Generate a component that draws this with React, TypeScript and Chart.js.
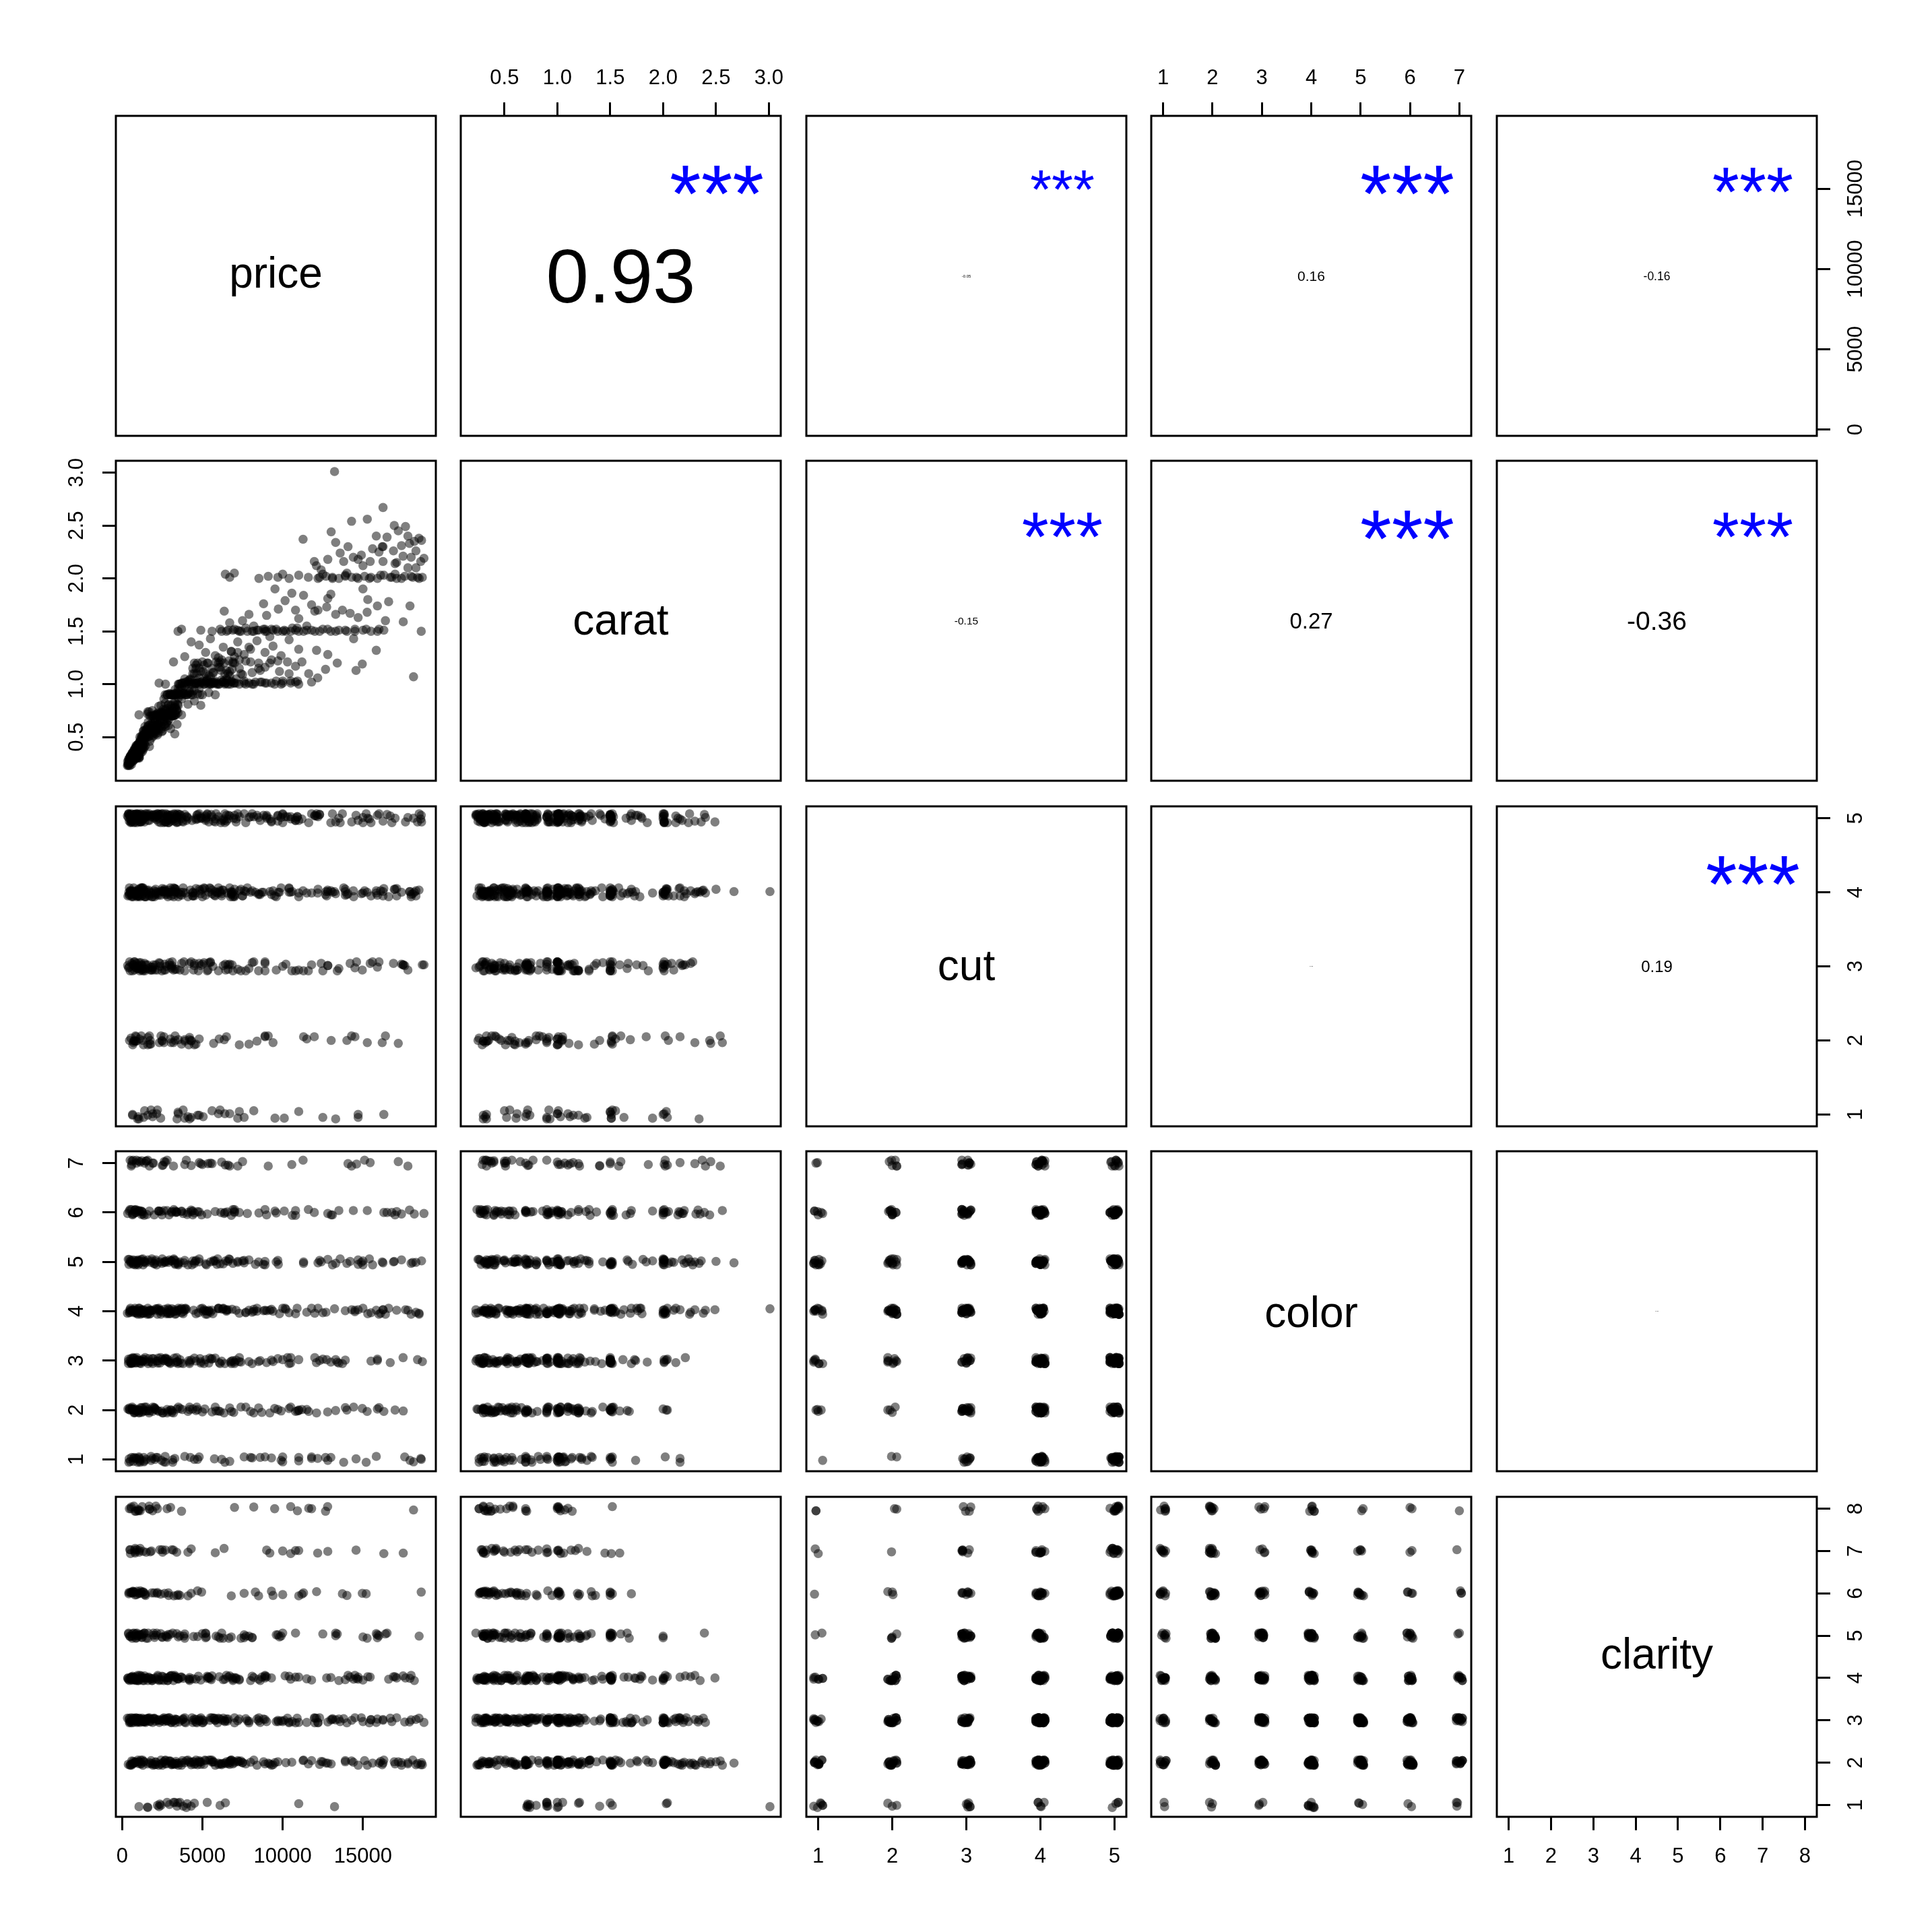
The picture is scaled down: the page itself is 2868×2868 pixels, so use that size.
import React, { useEffect, useRef } from 'react';
import { Chart, registerables } from 'chart.js';

Chart.register(...registerables);

const FONT = '"Liberation Sans", Arial, Helvetica, sans-serif';

// ---- data (one row per diamond; categorical values carry the plotted jitter) ----
const price = [
  330, 360, 380, 400, 420, 440, 460, 480, 500, 520,
  550, 570, 590, 610, 630, 650, 670, 690, 710, 730,
  750, 770, 790, 810, 830, 850, 870, 890, 910, 930,
  950, 970, 990, 1010, 1030, 1050, 1080, 1100, 1130, 1160,
  1190, 1220, 1250, 1280, 1310, 1340, 1370, 1400, 1430, 1460,
  345, 395, 455, 505, 565, 625, 685, 745, 805, 865,
  925, 985, 1045, 1105, 1165, 1225, 1285, 1345, 1405, 1465,
  1500, 1550, 1600, 1650, 1700, 1750, 1800, 1850, 1900, 1950,
  2000, 2050, 2100, 2150, 2200, 2250, 2300, 2350, 2400, 2450,
  2500, 2550, 2600, 2650, 2700, 2750, 2800, 2850, 2900, 2950,
  3000, 3050, 3100, 3150, 3200, 3250, 3300, 3350, 3400, 1580,
  1720, 1680, 1880, 2080, 2280, 2480, 2680, 2880, 3080, 3280,
  1620, 1820, 2020, 2220, 2420, 2620, 2820, 3020, 3220, 3420,
  2800, 3000, 3200, 3400, 3600, 3800, 4000, 4200, 4400, 4700,
  5000, 5400, 5800, 2900, 3300, 3700, 4100, 4500, 3500, 4900,
  3500, 3800, 4000, 4200, 4400, 4600, 4800, 5000, 5200, 5400,
  5600, 5800, 6000, 6200, 6400, 6600, 6800, 7000, 7300, 7600,
  7900, 8200, 8600, 9000, 9500, 10000, 10500, 11000, 4300, 5300,
  6300, 7100, 4500, 4900, 5300, 5700, 6100, 6500, 6900, 7300,
  7700, 8100, 8500, 8900, 9300, 9800, 10300, 10800, 4700, 5500,
  6700, 7500, 3900, 4600, 5100, 3300, 3700, 4800, 6000, 10920,
  12810, 12110, 12670, 14570, 14960, 18150, 15830, 11620, 12180, 2600,
  5200, 5800, 6300, 6800, 7200, 7600, 8000, 8400, 8900, 9400,
  9900, 10400, 11000, 4800, 3900, 4300, 6000, 7000, 9200, 5500,
  3480, 3700, 4900, 5600, 6100, 6500, 6900, 7300, 7700, 8100,
  8500, 8900, 9300, 9700, 10100, 10500, 10900, 11300, 11800, 12300,
  12800, 13300, 13900, 14500, 15200, 15900, 16300, 18630, 14420, 11500,
  6360, 6700, 7900, 8810, 9520, 9730, 10150, 10570, 11000, 11300,
  12000, 12740, 12810, 13300, 13720, 14700, 15260, 15900, 16600, 17510,
  17930, 16400, 10800, 14200, 7500, 9000, 11800, 13000, 15000, 8200,
  6430, 6990, 6700, 8520, 9100, 9700, 10400, 11000, 11600, 12200,
  12700, 13100, 13500, 13900, 14300, 14700, 15100, 15500, 15900, 16300,
  16700, 17100, 17600, 18100, 18500, 12500, 14000, 17000, 10000, 18700,
  16250, 14290, 15270, 16950, 17650, 13020, 11270, 13300, 15830, 16500,
  18490, 18650, 17900, 14070, 15600, 16250, 17400, 16900, 13580, 18300,
  12810, 13800, 14700, 15450, 16250, 17000, 17500, 18000, 18600, 11970,
  12100, 17800, 13230, 14900, 16000, 17200, 18200, 12400, 15000, 18800,
  1050, 2600, 900, 1800, 3900, 700, 1500, 2200, 2800, 3400,
  650, 4200, 1300, 2000, 3100, 1000, 3600, 1900, 4600, 750,
  2500, 560, 4300, 1700, 1600, 3000, 1100, 2900, 5200, 2400,
  800, 3700, 4500, 2100, 3300, 600, 1400, 3500, 2700, 450,
  2300, 4400, 1250, 3800, 850, 1200, 4100, 2800, 3200, 2700,
  4800, 1600, 3900, 620, 2500, 1900, 5600, 6400, 7200, 8900,
  400, 420, 450, 470, 490, 510, 530, 550, 570, 590,
  610, 630, 650, 670, 690, 710, 730, 750, 770, 790,
  810, 830, 850, 870, 890, 910, 930, 950, 970, 990,
  1010, 1030, 1050, 1070, 1090, 1110, 1130, 1150, 1170, 1190,
  1210, 1230, 1250, 1270, 1290, 1310, 1330, 1350, 1370, 1390,
  440, 520, 600, 680, 760, 840, 920, 1000, 1080, 1160,
  480, 560, 640, 720, 800, 880, 960, 1040, 1120, 1200,
  500, 580, 660, 740, 820, 900, 980, 1060, 1140, 1220,
  1300, 1350, 1400, 1450, 1500, 1550, 1600, 1650, 1700, 1750,
  1800, 1850, 1900, 1950, 2000, 2050, 2100, 2150, 2200, 2250,
  2300, 2350, 2400, 2450, 2500, 2550, 2600, 2650, 2700, 2750,
  2800, 2850, 2900, 2950, 3000, 3050, 3100, 3150, 3200, 3250,
  3300, 3350, 3400, 3450, 3500, 1320, 1420, 1520, 1620, 1720,
  1820, 1920, 2020, 2120, 2220, 2320, 2420, 2520, 2620, 2720,
  2820, 2920, 3020, 3120, 3220, 3320, 3420, 1480, 1680, 1880,
  2080, 2280, 2480, 2680, 2880, 3080, 3280, 3480, 1780, 2180,
  3550, 3650, 3750, 3850, 3950, 4050, 4150, 4250, 4350, 4450,
  4550, 4650, 4750, 4850, 4950, 5050, 5150, 5250, 5350, 5450,
  5550, 5650, 5750, 5850, 5950, 6050, 6150, 6250, 6350, 6450,
  6550, 6650, 6750, 6850, 6950, 3600, 3900, 4200, 4500, 4800,
  5100, 5400, 5700, 6000, 6300, 6600, 6900, 3700, 4100, 4400,
  4700, 5000, 5300, 5600, 5900, 6200, 6500, 6800, 3800, 4300,
  4600, 4900, 5200, 5500, 5800, 6100, 6400, 6700, 7000, 3500,
  7100, 7400, 7700, 8000, 8300, 8600, 8900, 9200, 9600, 10000,
  10400, 10800, 7200, 7800, 8400, 9000, 9600, 10200, 10800, 6200,
  6600, 7000, 7400, 8200, 8800, 9400, 10000, 10600, 11000, 7600,
  8100, 8700, 9300, 9900, 10500, 7300, 8500, 9700, 6800, 7900,
  11500, 12000, 12500, 13000, 13500, 14000, 14500, 15000, 15500, 16000,
  12300, 13100, 13900, 14600, 15400, 16100, 16800, 17400, 18000, 18400,
  11200, 12200, 13400, 14400, 15300, 16200, 17100, 17800, 18300, 11800,
];

const carat = [
  0.23, 0.24, 0.25, 0.23, 0.26, 0.27, 0.25, 0.28, 0.30, 0.26,
  0.31, 0.30, 0.28, 0.32, 0.30, 0.33, 0.31, 0.34, 0.30, 0.35,
  0.31, 0.36, 0.32, 0.38, 0.33, 0.40, 0.34, 0.38, 0.31, 0.41,
  0.36, 0.42, 0.40, 0.35, 0.43, 0.40, 0.45, 0.41, 0.38, 0.46,
  0.42, 0.50, 0.45, 0.51, 0.40, 0.52, 0.47, 0.50, 0.53, 0.42,
  0.27, 0.29, 0.30, 0.32, 0.27, 0.35, 0.32, 0.38, 0.30, 0.42,
  0.33, 0.37, 0.31, 0.50, 0.43, 0.39, 0.47, 0.56, 0.44, 0.55,
  0.52, 0.58, 0.50, 0.61, 0.55, 0.53, 0.70, 0.57, 0.62, 0.51,
  0.70, 0.56, 0.71, 0.60, 0.72, 0.54, 0.70, 0.64, 0.73, 0.58,
  0.71, 0.76, 0.70, 0.62, 0.74, 0.70, 0.77, 0.72, 0.66, 0.75,
  0.71, 0.80, 0.72, 0.75, 0.70, 0.78, 0.73, 0.71, 0.76, 0.72,
  0.46, 0.74, 0.75, 0.58, 0.79, 0.55, 0.82, 0.61, 0.90, 0.53,
  0.64, 0.49, 0.66, 0.62, 0.80, 0.65, 0.68, 0.58, 0.90, 0.62,
  0.90, 0.91, 0.90, 0.92, 0.90, 0.91, 0.90, 0.93, 0.90, 0.91,
  0.90, 0.92, 0.90, 0.81, 0.83, 0.86, 0.81, 0.84, 0.87, 0.80,
  1.00, 1.01, 1.00, 1.02, 1.00, 1.01, 1.00, 1.03, 1.01, 1.00,
  1.02, 1.01, 1.00, 1.04, 1.01, 1.00, 1.02, 1.01, 1.00, 1.03,
  1.01, 1.00, 1.02, 1.01, 1.00, 1.03, 1.01, 1.00, 1.04, 1.05,
  1.03, 1.05, 1.10, 1.12, 1.20, 1.11, 1.21, 1.13, 1.20, 1.15,
  1.22, 1.11, 1.20, 1.16, 1.23, 1.12, 1.21, 1.17, 1.20, 1.07,
  1.08, 1.09, 1.05, 1.15, 1.18, 0.95, 0.97, 0.96, 1.16, 1.03,
  1.28, 1.32, 1.14, 1.13, 1.19, 1.07, 1.32, 1.10, 1.06, 0.86,
  1.30, 1.27, 1.35, 1.31, 1.40, 1.28, 1.33, 1.41, 1.30, 1.36,
  1.27, 1.42, 1.33, 1.37, 1.26, 1.40, 1.25, 1.26, 1.45, 1.43,
  1.50, 1.52, 1.51, 1.50, 1.52, 1.50, 1.51, 1.50, 1.53, 1.50,
  1.51, 1.50, 1.52, 1.50, 1.51, 1.50, 1.53, 1.50, 1.51, 1.50,
  1.52, 1.50, 1.51, 1.50, 1.52, 1.50, 1.51, 1.50, 1.43, 1.55,
  1.69, 1.58, 1.66, 1.76, 1.90, 1.71, 1.79, 1.86, 1.62, 1.84,
  1.69, 1.73, 1.81, 1.66, 1.70, 1.63, 1.68, 1.74, 1.78, 1.59,
  1.74, 1.60, 1.70, 1.67, 1.60, 1.65, 1.75, 1.85, 1.90, 1.55,
  2.04, 2.05, 2.01, 2.00, 2.02, 2.01, 2.00, 2.03, 2.01, 2.00,
  2.02, 2.01, 2.00, 2.03, 2.01, 2.00, 2.02, 2.01, 2.00, 2.03,
  2.01, 2.00, 2.02, 2.01, 2.00, 2.04, 2.05, 2.04, 2.04, 2.01,
  2.67, 2.54, 2.56, 2.50, 2.49, 2.44, 2.37, 2.34, 2.40, 2.39,
  2.38, 2.36, 2.33, 2.30, 2.28, 2.30, 2.31, 2.26, 2.24, 2.26,
  2.18, 2.16, 2.18, 2.16, 2.16, 2.14, 2.21, 2.20, 2.16, 2.16,
  2.12, 2.10, 3.01, 2.22, 2.25, 2.45, 2.35, 2.08, 2.12, 2.19,
  0.71, 0.70, 0.40, 0.55, 0.90, 0.31, 0.50, 0.52, 0.90, 0.91,
  0.30, 0.92, 0.42, 0.54, 0.70, 0.32, 1.00, 0.62, 1.01, 0.33,
  0.70, 0.27, 0.90, 0.41, 0.74, 0.90, 0.41, 0.72, 1.02, 0.61,
  0.30, 0.71, 1.20, 0.70, 0.80, 0.31, 0.50, 0.80, 0.60, 0.26,
  1.01, 1.10, 0.45, 0.92, 0.34, 0.40, 0.91, 0.70, 1.21, 1.00,
  1.15, 0.57, 1.01, 0.35, 0.72, 0.70, 1.01, 1.10, 1.51, 1.52,
  0.24, 0.28, 0.25, 0.30, 0.27, 0.29, 0.31, 0.26, 0.33, 0.30,
  0.28, 0.34, 0.31, 0.27, 0.36, 0.32, 0.30, 0.38, 0.33, 0.29,
  0.35, 0.40, 0.31, 0.37, 0.33, 0.42, 0.36, 0.31, 0.40, 0.34,
  0.38, 0.44, 0.33, 0.41, 0.36, 0.46, 0.40, 0.35, 0.43, 0.38,
  0.47, 0.41, 0.36, 0.50, 0.43, 0.38, 0.51, 0.45, 0.40, 0.53,
  0.26, 0.32, 0.29, 0.33, 0.35, 0.30, 0.39, 0.41, 0.31, 0.48,
  0.23, 0.30, 0.32, 0.28, 0.37, 0.34, 0.30, 0.37, 0.42, 0.51,
  0.31, 0.24, 0.29, 0.34, 0.32, 0.38, 0.43, 0.30, 0.45, 0.40,
  0.52, 0.50, 0.55, 0.51, 0.57, 0.53, 0.60, 0.55, 0.51, 0.62,
  0.57, 0.63, 0.52, 0.70, 0.60, 0.66, 0.55, 0.71, 0.62, 0.70,
  0.58, 0.72, 0.65, 0.70, 0.60, 0.73, 0.67, 0.71, 0.76, 0.63,
  0.71, 0.80, 0.70, 0.74, 0.90, 0.72, 0.77, 0.70, 0.82, 0.91,
  0.71, 0.90, 0.75, 0.81, 0.91, 0.56, 0.60, 0.50, 0.53, 0.70,
  0.54, 0.61, 0.71, 0.57, 0.73, 0.64, 0.70, 0.56, 0.72, 0.70,
  0.65, 0.91, 0.73, 0.90, 0.70, 0.78, 0.90, 0.52, 0.58, 0.70,
  0.53, 0.70, 0.74, 0.90, 0.71, 0.70, 0.90, 0.73, 0.59, 0.65,
  1.00, 0.90, 1.01, 0.91, 1.02, 0.90, 1.00, 1.05, 0.92, 1.01,
  1.00, 1.10, 1.02, 0.90, 1.01, 1.12, 1.00, 1.03, 1.20, 1.01,
  1.00, 1.11, 1.02, 1.21, 1.01, 1.00, 1.13, 1.02, 1.20, 1.01,
  1.04, 1.22, 1.00, 1.14, 1.01, 0.95, 0.98, 1.04, 0.94, 1.06,
  1.00, 1.08, 1.01, 1.20, 1.02, 1.10, 1.21, 1.01, 1.03, 1.15,
  1.01, 1.21, 1.04, 1.15, 1.00, 1.23, 1.05, 1.03, 0.93, 1.00,
  1.18, 1.02, 1.10, 1.00, 1.03, 1.16, 1.00, 1.12, 1.20, 0.96,
  1.01, 1.10, 1.00, 1.21, 1.02, 1.13, 1.01, 1.20, 1.03, 1.01,
  1.10, 1.02, 1.30, 1.50, 1.51, 1.50, 1.52, 1.50, 1.51, 1.50,
  1.51, 1.52, 1.50, 1.50, 1.52, 1.51, 1.50, 1.53, 1.50, 1.01,
  1.00, 1.02, 1.01, 1.00, 1.03, 1.23, 1.15, 1.22, 1.31, 1.35,
  1.51, 1.50, 1.52, 1.50, 1.51, 1.50, 1.52, 1.51, 1.50, 1.52,
  2.01, 2.00, 2.02, 2.01, 2.00, 2.03, 2.01, 2.00, 2.02, 2.01,
  1.21, 1.70, 1.20, 2.20, 1.80, 2.30, 2.15, 2.40, 2.10, 1.02,
];

const cut = [
  5.03, 3.95, 5.01, 2.98, 5.06, 3.96, 2, 5.04, 2.94, 4.02,
  4.01, 5.06, 4.97, 3.04, 3.95, 1, 5.02, 3.94, 1.99, 5.05,
  5.03, 2.95, 4.01, 4.98, 2.06, 3.96, 5, 3.04, 4.94, 4.02,
  4.01, 5.06, 2.97, 5.04, 3.95, 5, 2.02, 3.94, 4.99, 3.05,
  5.03, 3.95, 3.01, 4.98, 4.06, 0.96, 5, 3.04, 3.94, 5.02,
  3.01, 5.06, 3.97, 5.04, 4.95, 4, 3.02, 4.94, 3.99, 2.05,
  5.03, 3.95, 5.01, 2.98, 5.06, 3.96, 2, 5.04, 3.94, 3.02,
  4.01, 5.06, 2.97, 5.04, 3.95, 2, 5.02, 3.94, 2.99, 5.05,
  5.03, 2.95, 4.01, 4.98, 1.06, 3.96, 5, 3.04, 4.94, 4.02,
  4.01, 5.06, 1.97, 4.04, 4.95, 3, 5.02, 3.94, 4.99, 3.05,
  5.03, 3.95, 3.01, 4.98, 4.06, 4.96, 2, 4.04, 4.94, 3.02,
  4.01, 5.06, 2.97, 4.04, 4.95, 2, 4.02, 4.94, 2.99, 4.05,
  5.03, 2.95, 5.01, 3.98, 2.06, 4.96, 4, 5.04, 3.94, 5.02,
  5.01, 4.06, 1.97, 5.04, 2.95, 4, 5.02, 0.94, 3.99, 5.05,
  3.03, 4.95, 4.01, 4.98, 2.06, 3.96, 5, 3.04, 3.94, 5.02,
  1.01, 4.06, 4.97, 3.04, 3.95, 5, 2.02, 3.94, 4.99, 3.05,
  4.03, 4.95, 1.01, 3.98, 5.06, 2.96, 4, 5.04, 1.94, 4.02,
  5.01, 3.06, 3.97, 5.04, 3.95, 3, 5.02, 3.94, 1.99, 5.05,
  4.03, 4.95, 3.01, 3.98, 5.06, 1.96, 4, 5.04, 2.94, 5.02,
  4.01, 5.06, 3.97, 3.04, 4.95, 4, 5.02, 2.94, 0.99, 4.05,
  5.03, 3.95, 2.01, 4.98, 4.06, 2.96, 5, 4.04, 2.94, 5.02,
  4.01, 5.06, 3.97, 5.04, 2.95, 5, 4.02, 4.94, 3.99, 2.05,
  5.03, 3.95, 3.01, 3.98, 5.06, 0.96, 4, 5.04, 2.94, 4.02,
  5.01, 4.06, 4.97, 3.04, 0.95, 2, 5.02, 3.94, 4.99, 3.05,
  1.03, 1.95, 3.01, 3.98, 1.06, 4.96, 4, 1.04, 4.94, 4.02,
  5.01, 3.06, 3.97, 5.04, 0.95, 4, 5.02, 2.94, 3.99, 5.05,
  4.03, 4.95, 4.01, 2.98, 5.06, 3.96, 1, 5.04, 3.94, 2.02,
  2.01, 4.06, 2.97, 5.04, 0.95, 4, 5.02, 2.94, 3.99, 2.05,
  5.03, 3.95, 3.01, 3.98, 5.06, 0.96, 4, 5.04, 3.94, 3.02,
  4.01, 2.06, 4.97, 3.04, 3.95, 5, 3.02, 4.94, 3.99, 1.05,
  3.03, 3.95, 1.01, 3.98, 2.06, 4.96, 4, 1.04, 2.94, 5.02,
  4.01, 5.06, 2.97, 4.04, 4.95, 1, 4.02, 4.94, 2.99, 4.05,
  5.03, 3.95, 3.01, 3.98, 5.06, 0.96, 2, 4.04, 4.94, 3.02,
  4.01, 2.06, 1.97, 4.04, 4.95, 2, 4.02, 0.94, 3.99, 5.05,
  4.03, 4.95, 4.01, 3.98, 3.06, 4.96, 4, 3.04, 4.94, 4.02,
  3.01, 4.06, 4.97, 3.04, 3.95, 5, 3.02, 3.94, 4.99, 2.05,
  5.03, 2.95, 4.01, 3.98, 5.06, 1.96, 4, 3.04, 4.94, 3.02,
  3.05, 4, 4.96, 1.06, 1.99, 3.02, 3.94, 5.03, 3.97, 4.95,
  0.99, 2.04, 2.94, 4.02, 5, 0.97, 5.05, 1.01, 1.95, 3.06,
  4.05, 5, 0.96, 2.06, 0.99, 2.02, 2.94, 4.03, 4.97, 0.95,
  1.99, 3.04, 1.94, 3.02, 4, 4.97, 1.05, 2.01, 2.95, 4.06,
  3.05, 4, 4.96, 1.06, 1.99, 3.02, 3.94, 5.03, 3.97, 4.95,
  0.99, 2.04, 2.94, 4.02, 5, 0.97, 1.05, 1.01, 0.95, 2.06,
  5.05, 4, 4.96, 3.06, 4.99, 4.02, 4.94, 2.03, 3.97, 4.95,
  3.99, 5.04, 2.94, 5.02, 4, 1.97, 5.05, 4.01, 4.95, 3.06,
  5.05, 3, 3.96, 5.06, 1.99, 5.02, 3.94, 5.03, 2.97, 3.95,
  4.99, 4.04, 0.94, 5.02, 4, 2.97, 5.05, 4.01, 4.95, 2.06,
  4.05, 5, 2.96, 4.06, 4.99, 5.02, 1.94, 4.03, 2.97, 4.95,
  2.99, 5.04, 3.94, 5.02, 2, 3.97, 5.05, 3.01, 4.95, 4.06,
  5.05, 4, 4.96, 4.06, 2.99, 5.02, 0.94, 4.03, 4.97, 2.95,
  3.99, 5.04, 1.94, 5.02, 4, 2.97, 5.05, 4.01, 4.95, 4.06,
  5.05, 4, 2.96, 5.06, 3.99, 5.02, 1.94, 4.03, 4.97, 2.95,
  3.99, 5.04, 3.94, 3.02, 5, 3.97, 5.05, 1.01, 2.95, 5.06,
  5.05, 3, 3.96, 5.06, 1.99, 4.02, 4.94, 3.03, 3.97, 4.95,
  3.99, 5.04, 4.94, 3.02, 4, 1.97, 5.05, 4.01, 2.95, 5.06,
  5.05, 4, 2.96, 5.06, 3.99, 5.02, 2.94, 4.03, 4.97, 1.95,
  2.99, 5.04, 3.94, 5.02, 4, 1.97, 5.05, 4.01, 2.95, 5.06,
  5.05, 4, 4.96, 3.06, 4.99, 4.02, 0.94, 5.03, 3.97, 2.95,
  3.99, 5.04, 2.94, 4.02, 5, 2.97, 4.05, 5.01, 1.95, 5.06,
  5.05, 4, 4.96, 3.06, 3.99, 5.02, 1.94, 4.03, 4.97, 2.95,
  3.99, 5.04, 2.94, 4.02, 5, 0.97, 4.05, 5.01, 2.95, 4.06,
  5.05, 3, 3.96, 5.06, 3.99, 2.02, 4.94, 4.03, 4.97, 2.95,
  3.99, 5.04, 3.94, 3.02, 5, 3.97, 5.05, 2.01, 3.95, 5.06,
  3.05, 4, 4.96, 4.06, 4.99, 3.02, 3.94, 5.03, 0.97, 3.95,
  4.99, 4.04, 2.94, 5.02, 4, 4.97, 2.05, 4.01, 4.95, 3.06,
  4.05, 5, 3.96, 3.06, 4.99, 4.02, 4.94, 3.03, 3.97, 4.95,
  4.99, 4.04, 2.94, 5.02, 4, 4.97, 2.05, 4.01, 2.95, 5.06,
  4.05, 5, 2.96, 4.06, 1.99, 5.02, 3.94, 3.03, 4.97, 3.95,
  4.99, 4.04, 2.94, 5.02, 4, 1.97, 5.05, 4.01, 2.95, 5.06,
  3.05, 4, 4.96, 4.06, 4.99, 4.02, 2.94, 5.03, 3.97, 1.95,
  3.99, 5.04, 2.94, 4.02, 5, 3.97, 2.05, 5.01, 3.95, 3.06,
  5.05, 4, 3.96, 3.06, 4.99, 4.02, 4.94, 3.03, 3.97, 4.95,
  4.99, 4.04, 2.94, 4.02, 5, 1.97, 4.05, 5.01, 3.95, 5.06,
];

const color = [
  3.96, 2.02, 5.05, 2.99, 0.94, 6.03, 3.97, 2, 7.06, 2.98,
  4.98, 2.94, 1.04, 4.01, 2.03, 5.95, 3.06, 4.97, 4.02, 2,
  2.96, 4.02, 6.05, 1.99, 4.94, 1.03, 3.97, 7, 3.06, 4.98,
  1.98, 3.94, 5.04, 3.01, 6.03, 1.95, 4.06, 0.97, 5.02, 3,
  3.96, 6.02, 2.05, 2.99, 4.94, 4.03, 0.97, 7, 3.06, 1.98,
  5.98, 2.94, 2.04, 4.01, 5.03, 2.95, 7.06, 3.97, 2.02, 6,
  3.96, 5.02, 1.05, 1.99, 2.94, 4.03, 5.97, 5, 2.06, 3.98,
  2.98, 3.94, 5.04, 2.01, 6.03, 3.95, 1.06, 2.97, 4.02, 7,
  4.96, 2.02, 4.05, 2.99, 3.94, 6.03, 1.97, 5, 3.06, 0.98,
  3.98, 1.94, 6.04, 5.01, 3.03, 3.95, 7.06, 1.97, 4.02, 3,
  2.96, 5.02, 4.05, 0.99, 1.94, 4.03, 4.97, 6, 3.06, 1.98,
  1.98, 3.94, 3.04, 5.01, 4.03, 5.95, 1.06, 2.97, 5.02, 4,
  3.96, 5.02, 2.05, 2.99, 3.94, 7.03, 3.97, 2, 6.06, 2.98,
  3.98, 2.94, 5.04, 6.01, 2.03, 3.95, 7.06, 2.97, 5.02, 1,
  1.96, 4.02, 3.05, 4.99, 3.94, 6.03, 1.97, 1, 4.06, 2.98,
  4.98, 2.94, 4.04, 2.01, 6.03, 3.95, 5.06, 6.97, 3.02, 4,
  1.96, 5.02, 4.05, 2.99, 0.94, 4.03, 1.97, 6, 3.06, 4.98,
  2.98, 1.94, 1.04, 4.01, 2.03, 0.95, 3.06, 0.97, 6.02, 4,
  4.96, 4.02, 3.05, 6.99, 3.94, 5.03, 1.97, 4, 6.06, 2.98,
  3.98, 2.94, 2.04, 5.01, 1.03, 3.95, 3.06, 1.97, 6.02, 7,
  0.96, 5.02, 4.05, 1.99, 2.94, 6.03, 3.97, 5, 4.06, 1.98,
  0.98, 1.94, 1.04, 1.01, 2.03, 0.95, 1.06, 1.97, 1.02, 3,
  4.96, 6.02, 4.05, 2.99, 6.94, 5.03, 1.97, 4, 6.06, 2.98,
  1.98, 2.94, 1.04, 6.01, 5.03, 6.95, 4.06, 2.97, 4.02, 5,
  4.96, 6.02, 4.05, 6.99, 2.94, 4.03, 4.97, 6, 2.06, 3.98,
  2.98, 4.94, 4.04, 2.01, 6.03, 2.95, 4.06, 4.97, 1.02, 3,
  1.96, 3.02, 2.05, 3.99, 0.94, 3.03, 1.97, 1, 2.06, 3.98,
  5.98, 6.94, 5.04, 4.01, 6.03, 4.95, 4.06, 6.97, 3.02, 5,
  3.96, 3.02, 5.05, 1.99, 2.94, 4.03, 1.97, 3, 4.06, 1.98,
  0.98, 3.94, 6.04, 5.01, 7.03, 5.95, 4.06, 2.97, 5.02, 4,
  6.96, 6.02, 5.05, 5.99, 6.94, 5.03, 3.97, 2, 6.06, 4.98,
  3.98, 4.94, 6.04, 3.01, 4.03, 4.95, 7.06, 3.97, 2.02, 6,
  2.96, 4.02, 1.05, 4.99, 3.94, 3.03, 4.97, 2, 4.06, 2.98,
  4.98, 6.94, 6.04, 5.01, 4.03, 5.95, 7.06, 4.97, 4.02, 6,
  3.96, 5.02, 6.05, 6.99, 4.94, 4.03, 5.97, 5, 5.06, 3.98,
  5.98, 0.94, 5.04, 7.01, 4.03, 5.95, 3.06, 4.97, 1.02, 6,
  2.96, 4.02, 4.05, 4.99, 3.94, 7.03, 5.97, 5, 4.06, 5.98,
  1.03, 0.95, 1.01, 0.98, 1.06, 0.96, 1, 1.04, 1.94, 2.02,
  2.01, 2.06, 1.97, 2.04, 1.95, 2, 3.02, 2.94, 2.99, 3.05,
  3.03, 2.95, 3.01, 2.98, 4.06, 3.96, 4, 4.04, 3.94, 4.02,
  4.01, 4.06, 4.97, 5.04, 4.95, 5, 5.02, 4.94, 4.99, 5.05,
  6.03, 5.95, 6.01, 5.98, 6.06, 5.96, 6, 6.04, 6.94, 7.02,
  7.01, 7.06, 6.97, 7.04, 6.95, 7, 4.02, 2.94, 4.99, 1.05,
  3.03, 4.95, 2.01, 3.98, 6.06, 0.96, 4, 3.04, 6.94, 2.02,
  4.01, 2.06, 5.97, 3.04, 4.95, 4, 1.02, 1.94, 3.99, 6.05,
  5.03, 2.95, 4.01, 1.98, 7.06, 2.96, 5, 6.04, 0.94, 4.02,
  2.01, 4.06, 4.97, 6.04, 2.95, 1, 7.02, 3.94, 2.99, 5.05,
  6.03, 1.95, 4.01, 2.98, 5.06, 3.96, 2, 1.04, 5.94, 3.02,
  1.01, 4.06, 6.97, 5.04, 1.95, 6, 3.02, 4.94, 3.99, 2.05,
  4.03, 2.95, 2.01, 5.98, 4.06, 4.96, 3, 7.04, 0.94, 4.02,
  5.01, 6.06, 2.97, 1.04, 1.95, 4, 5.02, 1.94, 2.99, 7.05,
  3.03, 0.95, 4.01, 4.98, 2.06, 5.96, 4, 3.04, 6.94, 4.02,
  4.01, 5.06, 1.97, 3.04, 5.95, 1, 4.02, 4.94, 1.99, 3.05,
  6.03, 2.95, 4.01, 1.98, 5.06, 6.96, 3, 4.04, 0.94, 5.02,
  2.01, 4.06, 2.97, 5.04, 3.95, 2, 6.02, 0.94, 3.99, 3.05,
  5.03, 3.95, 6.01, 2.98, 2.06, 3.96, 5, 7.04, 2.94, 4.02,
  4.01, 2.06, 4.97, 1.04, 2.95, 4, 6.02, 1.94, 4.99, 3.05,
  3.03, 5.95, 4.01, 1.98, 5.06, 2.96, 4, 7.04, 1.94, 1.02,
  2.01, 4.06, 4.97, 3.04, 3.95, 6, 1.02, 2.94, 4.99, 4.05,
  4.03, 2.95, 2.01, 4.98, 4.06, 5.96, 3, 1.04, 4.94, 4.02,
  5.01, 2.06, 3.97, 3.04, 5.95, 4, 2.02, 4.94, 6.99, 3.05,
  3.03, 3.95, 1.01, 1.98, 5.06, 2.96, 6, 4.04, 1.94, 5.02,
  6.01, 5.06, 2.97, 4.04, 1.95, 5, 4.02, 2.94, 5.99, 1.05,
  4.03, 2.95, 5.01, 1.98, 4.06, 6.96, 3, 4.04, 4.94, 2.02,
  2.01, 4.06, 5.97, 3.04, 4.95, 1, 4.02, 2.94, 3.99, 6.05,
  5.03, 2.95, 4.01, 3.98, 2.06, 4.96, 6, 2.04, 2.94, 4.02,
  3.01, 2.06, 3.97, 1.04, 4.95, 3, 4.02, 1.94, 5.99, 1.05,
  2.03, 3.95, 5.01, 5.98, 4.06, 2.96, 5, 4.04, 5.94, 7.02,
  5.01, 6.06, 2.97, 4.04, 4.95, 4, 3.02, 5.94, 1.99, 1.05,
  1.03, 1.95, 3.01, 0.98, 2.06, 3.96, 5, 3.04, 5.94, 4.02,
  2.01, 3.06, 3.97, 1.04, 2.95, 2, 4.02, 4.94, 2.99, 2.05,
  5.03, 5.95, 4.01, 6.98, 5.06, 3.96, 6, 5.04, 3.94, 3.02,
  2.01, 4.06, 2.97, 6.04, 3.95, 5, 6.02, 6.94, 4.99, 1.05,
];

const clarity = [
  3.05, 4, 1.96, 5.06, 5.99, 3.02, 3.94, 7.03, 2.97, 1.95,
  3.99, 8.04, 2.94, 4.02, 5, 1.97, 6.05, 3.01, 3.95, 5.06,
  3.05, 2, 3.96, 7.06, 2.99, 5.02, 7.94, 4.03, 5.97, 2.95,
  4.99, 3.04, 3.94, 2.02, 6, 3.97, 3.05, 5.01, 7.95, 2.06,
  4.05, 3, 4.96, 2.06, 6.99, 3.02, 3.94, 3.03, 2.97, 5.95,
  3.99, 5.04, 2.94, 6.02, 4, 1.97, 3.05, 4.01, 6.95, 3.06,
  6.05, 3, 7.96, 4.06, 2.99, 5.02, 3.94, 2.03, 5.97, 2.95,
  3.99, 3.04, 4.94, 4.02, 2, 2.97, 2.05, 6.01, 2.95, 5.06,
  3.05, 4, 1.96, 5.06, 0.99, 3.02, 3.94, 7.03, 1.97, 3.95,
  1.99, 3.04, 3.94, 3.02, 5, 1.97, 3.05, 4.01, 5.95, 3.06,
  4.05, 3, 1.96, 5.06, 2.99, 4.02, 2.94, 2.03, 6.97, 0.95,
  7.99, 3.04, 3.94, 2.02, 3, 4.97, 2.05, 6.01, 2.95, 4.06,
  3.05, 7, 4.96, 4.06, 0.99, 3.02, 3.94, 8.03, 1.97, 5.95,
  2.99, 2.04, 3.94, 3.02, 5, 0.97, 2.05, 4.01, 2.95, 6.06,
  5.05, 4, 6.96, 3.06, 1.99, 4.02, 5.94, 3.03, 4.97, 3.95,
  1.99, 3.04, 0.94, 2.02, 3, 3.97, 2.05, 3.01, 4.95, 2.06,
  4.05, 3, 1.96, 5.06, 2.99, 4.02, 5.94, 8.03, 3.97, 4.95,
  4.99, 8.04, 3.94, 7.02, 8, 5.97, 8.05, 7.01, 1.95, 1.06,
  3.05, 4, 1.96, 3.06, 3.99, 2.02, 4.94, 3.03, 1.97, 3.95,
  4.99, 4.04, 5.94, 3.02, 4, 4.97, 3.05, 7.01, 1.95, 3.06,
  4.05, 2, 2.96, 2.06, 2.99, 4.02, 1.94, 3.03, 4.97, 7.95,
  6.99, 6.04, 7.94, 7.02, 6, 7.97, 5.05, 8.01, 6.95, 3.06,
  2.05, 3, 3.96, 2.06, 2.99, 5.02, 3.94, 3.03, 1.97, 5.95,
  4.99, 4.04, 5.94, 2.02, 2, 0.97, 3.05, 4.01, 6.95, 2.06,
  1.05, 2, 1.96, 3.06, 0.99, 2.02, 3.94, 3.03, 1.97, 4.95,
  2.99, 4.04, 1.94, 5.02, 3, 3.97, 3.05, 6.01, 3.95, 3.06,
  8.05, 5, 3.96, 3.06, 5.99, 5.02, 6.94, 6.03, 3.97, 2.95,
  1.99, 2.04, 2.94, 2.02, 2, 2.97, 4.05, 2.01, 2.95, 2.06,
  3.05, 4, 2.96, 5.06, 5.99, 4.02, 4.94, 3.03, 3.97, 6.95,
  3.99, 5.04, 2.94, 4.02, 2, 2.97, 2.05, 3.01, 3.95, 2.06,
  1.05, 2, 1.96, 3.06, 1.99, 2.02, 2.94, 1.03, 1.97, 2.95,
  1.99, 3.04, 3.94, 2.02, 3, 3.97, 2.05, 3.01, 4.95, 2.06,
  3.05, 4, 2.96, 2.06, 4.99, 2.02, 2.94, 4.03, 2.97, 1.95,
  1.99, 2.04, 1.94, 2.02, 4, 1.97, 2.05, 3.01, 2.95, 5.06,
  3.05, 2, 2.96, 4.06, 1.99, 3.02, 1.94, 4.03, 2.97, 1.95,
  1.99, 3.04, 1.94, 4.02, 3, 1.97, 4.05, 3.01, 1.95, 3.06,
  3.05, 2, 0.96, 3.06, 1.99, 2.02, 3.94, 2.03, 2.97, 2.95,
  0.96, 2.02, 3.05, 3.99, 4.94, 6.03, 6.97, 8, 1.06, 1.98,
  2.98, 3.94, 5.04, 6.01, 7.03, 7.95, 1.06, 1.97, 3.02, 4,
  4.96, 6.02, 7.05, 7.99, 0.94, 2.03, 2.97, 4, 5.06, 5.98,
  6.98, 7.94, 1.04, 2.01, 3.03, 3.95, 5.06, 5.97, 7.02, 8,
  0.96, 2.02, 3.05, 3.99, 4.94, 6.03, 6.97, 8, 1.06, 1.98,
  2.98, 3.94, 5.04, 6.01, 7.03, 7.95, 2.06, 2.97, 2.02, 4,
  3.96, 6.02, 3.05, 4.99, 1.94, 7.03, 3.97, 8, 3.06, 4.98,
  2.98, 4.94, 4.04, 6.01, 2.03, 2.95, 8.06, 3.97, 7.02, 2,
  5.96, 2.02, 5.05, 2.99, 3.94, 7.03, 2.97, 5, 4.06, 7.98,
  1.98, 3.94, 3.04, 7.01, 5.03, 2.95, 6.06, 1.97, 4.02, 3,
  4.96, 3.02, 8.05, 3.99, 1.94, 6.03, 2.97, 4, 5.06, 2.98,
  3.98, 6.94, 2.04, 3.01, 6.03, 3.95, 5.06, 2.97, 2.02, 6,
  2.96, 4.02, 5.05, 1.99, 7.94, 3.03, 3.97, 6, 7.06, 1.98,
  4.98, 1.94, 6.04, 4.01, 3.03, 4.95, 2.06, 6.97, 3.02, 4,
  2.96, 2.02, 4.05, 5.99, 4.94, 3.03, 1.97, 4, 3.06, 6.98,
  1.98, 3.94, 3.04, 5.01, 3.03, 1.95, 8.06, 3.97, 6.02, 3,
  3.96, 1.02, 5.05, 2.99, 1.94, 4.03, 2.97, 6, 2.06, 4.98,
  2.98, 3.94, 2.04, 1.01, 5.03, 2.95, 4.06, 1.97, 7.02, 3,
  1.96, 3.02, 5.05, 3.99, 1.94, 6.03, 2.97, 4, 5.06, 2.98,
  3.98, 1.94, 3.04, 5.01, 4.03, 2.95, 2.06, 6.97, 3.02, 4,
  4.96, 3.02, 4.05, 1.99, 5.94, 4.03, 0.97, 3, 8.06, 3.98,
  2.98, 1.94, 4.04, 3.01, 5.03, 1.95, 1.06, 3.97, 3.02, 6,
  2.96, 4.02, 2.05, 4.99, 2.94, 1.03, 3.97, 2, 3.06, 4.98,
  1.98, 2.94, 4.04, 2.01, 6.03, 2.95, 2.06, 4.97, 4.02, 3,
  3.96, 2.02, 3.05, 4.99, 2.94, 4.03, 1.97, 3, 7.06, 1.98,
  2.98, 4.94, 2.04, 4.01, 2.03, 5.95, 3.06, 3.97, 2.02, 3,
  1.96, 4.02, 3.05, 1.99, 4.94, 3.03, 3.97, 3, 2.06, 3.98,
  4.98, 2.94, 4.04, 2.01, 3.03, 1.95, 4.06, 4.97, 3.02, 6,
  2.96, 2.02, 5.05, 3.99, 1.94, 3.03, 3.97, 2, 3.06, 3.98,
  3.98, 4.94, 3.04, 2.01, 6.03, 2.95, 4.06, 1.97, 5.02, 7,
  2.96, 4.02, 2.05, 2.99, 1.94, 4.03, 2.97, 2, 5.06, 1.98,
  1.98, 2.94, 2.04, 4.01, 3.03, 1.95, 5.06, 2.97, 4.02, 6,
  4.96, 4.02, 6.05, 2.99, 6.94, 2.03, 3.97, 3, 2.06, 2.98,
  3.98, 2.94, 5.04, 4.01, 3.03, 5.95, 4.06, 4.97, 3.02, 5,
  1.96, 3.02, 2.05, 3.99, 2.94, 2.03, 2.97, 2, 4.06, 1.98,
  5.98, 2.94, 5.04, 2.01, 4.03, 1.95, 3.06, 1.97, 3.02, 8,
];

// ---- axes ----
const varNames = ['price', 'carat', 'cut', 'color', 'clarity'];
const priceRange = [-390, 19540];
const caratRange = [0.087, 3.112];
const cutRange = [0.84, 5.16];
const colorRange = [0.76, 7.24];
const clarityRange = [0.72, 8.28];

const priceTicks = [0, 5000, 10000, 15000];
const priceTickLabels = ['0', '5000', '10000', '15000'];
const caratTicks = [0.5, 1, 1.5, 2, 2.5, 3];
const caratTickLabels = ['0.5', '1.0', '1.5', '2.0', '2.5', '3.0'];
const cutTicks = [1, 2, 3, 4, 5];
const cutTickLabels = ['1', '2', '3', '4', '5'];
const colorTicks = [1, 2, 3, 4, 5, 6, 7];
const colorTickLabels = ['1', '2', '3', '4', '5', '6', '7'];
const clarityTicks = [1, 2, 3, 4, 5, 6, 7, 8];
const clarityTickLabels = ['1', '2', '3', '4', '5', '6', '7', '8'];

// ---- upper-panel correlation texts ----
const corrCells = [[0, 1], [0, 2], [0, 3], [0, 4], [1, 2], [1, 3], [1, 4], [2, 3], [2, 4], [3, 4]];
const corrLabels = ['0.93', '-0.05', '0.16', '-0.16', '-0.15', '0.27', '-0.36', '0.02', '0.19', '0.03'];
const corrSizes = [114, 6, 21, 17.5, 15.5, 33, 39, 2.5, 24, 2.5];
const corrStars = ['***', '***', '***', '***', '***', '***', '***', '', '***', ''];
const starSizes = [120, 82, 120, 103, 103, 120, 103, 0, 120, 0];

const variables = [price, carat, cut, color, clarity];
const ranges = [priceRange, caratRange, cutRange, colorRange, clarityRange];
const tickValues = [priceTicks, caratTicks, cutTicks, colorTicks, clarityTicks];
const tickLabels = [priceTickLabels, caratTickLabels, cutTickLabels, colorTickLabels, clarityTickLabels];

const PANEL = 475;
const STARTS = [172, 684, 1197, 1709, 2222];
const M = 100;
const TICK_FONT = 31;

function widestLabel(labels: string[]): number {
  const cv = document.createElement('canvas');
  const ctx = cv.getContext('2d');
  if (!ctx) return 0;
  ctx.font = `${TICK_FONT}px ${FONT}`;
  return Math.max(...labels.map((l) => ctx.measureText(l).width));
}

function inkText(ctx: CanvasRenderingContext2D, txt: string, x: number, y: number, size: number, fill: string) {
  ctx.font = `${size}px ${FONT}`;
  ctx.fillStyle = fill;
  ctx.textAlign = 'center';
  ctx.textBaseline = 'alphabetic';
  const m = ctx.measureText(txt);
  ctx.fillText(txt, x, y + (m.actualBoundingBoxAscent - m.actualBoundingBoxDescent) / 2);
}

function makeScale(v: number, axis: 'x' | 'y', position: string, show: boolean) {
  const isX = axis === 'x';
  const widest = show && !isX ? widestLabel(tickLabels[v]) : 0;
  const s: any = {
    type: 'linear',
    axis,
    position,
    display: show,
    min: ranges[v][0],
    max: ranges[v][1],
    bounds: 'data',
    afterBuildTicks: (sc: any) => {
      sc.ticks = tickValues[v].map((value) => ({ value }));
    },
    grid: {
      display: true,
      drawOnChartArea: false,
      drawTicks: true,
      tickLength: 20,
      tickWidth: 3,
      lineWidth: 3,
      color: '#000',
      tickColor: '#000',
    },
    border: { display: false },
    ticks: {
      autoSkip: false,
      color: '#000',
      font: { family: FONT, size: TICK_FONT },
      minRotation: isX ? 0 : 90,
      maxRotation: isX ? 0 : 90,
      crossAlign: isX ? 'near' : 'center',
      padding: isX ? (position === 'top' ? 17 : 21) : 38 - widest / 2,
      callback: (val: any) => {
        const i = tickValues[v].indexOf(Number(val));
        return i >= 0 ? tickLabels[v][i] : '';
      },
    },
  };
  if (show) {
    s.afterFit = (sc: any) => {
      if (isX) sc.height = M;
      else sc.width = M;
    };
  }
  return s;
}

function Panel({ r, c }: { r: number; c: number }) {
  const ref = useRef<HTMLCanvasElement | null>(null);

  useEffect(() => {
    if (!ref.current) return;
    const hasTop = r === 0 && c % 2 === 1;
    const hasBottom = r === 4 && c % 2 === 0;
    const hasLeft = c === 0 && r % 2 === 1;
    const hasRight = c === 4 && r % 2 === 0;

    const datasets: any[] = [];
    if (r > c) {
      datasets.push({
        data: variables[c].map((xv, i) => ({ x: xv, y: variables[r][i] })),
        pointRadius: 6.8,
        pointHoverRadius: 6.8,
        pointBackgroundColor: 'rgba(0,0,0,0.5)',
        pointBorderWidth: 0,
        showLine: false,
      });
    }

    const k = corrCells.findIndex((p) => p[0] === r && p[1] === c);

    const deco = {
      id: 'deco',
      afterDraw(chart: any) {
        const ctx: CanvasRenderingContext2D = chart.ctx;
        const a = chart.chartArea;
        const w = a.right - a.left;
        const h = a.bottom - a.top;
        ctx.save();
        ctx.lineWidth = 3;
        ctx.strokeStyle = '#000';
        ctx.strokeRect(a.left, a.top, w, h);
        if (r === c) {
          inkText(ctx, varNames[r], a.left + w / 2, a.top + h / 2, 64, '#000');
        } else if (k >= 0) {
          inkText(ctx, corrLabels[k], a.left + w / 2, a.top + h / 2, corrSizes[k], '#000');
          if (corrStars[k]) {
            inkText(ctx, corrStars[k], a.left + 0.8 * w, a.bottom - 0.8 * h, starSizes[k], '#0000FF');
          }
        }
        ctx.restore();
      },
    };

    const chart = new Chart(ref.current, {
      type: 'scatter',
      data: { datasets },
      options: {
        animation: false,
        responsive: false,
        maintainAspectRatio: false,
        devicePixelRatio: 1,
        events: [],
        layout: {
          padding: {
            top: hasTop ? 0 : M,
            bottom: hasBottom ? 0 : M,
            left: hasLeft ? 0 : M,
            right: hasRight ? 0 : M,
          },
        },
        plugins: { legend: { display: false }, tooltip: { enabled: false }, title: { display: false } },
        scales: {
          x: makeScale(c, 'x', hasTop ? 'top' : 'bottom', hasTop || hasBottom),
          y: makeScale(r, 'y', hasLeft ? 'left' : 'right', hasLeft || hasRight),
        },
      } as any,
      plugins: [deco as any],
    });
    return () => chart.destroy();
  }, [r, c]);

  const size = PANEL + 2 * M;
  return (
    <canvas
      ref={ref}
      width={size}
      height={size}
      style={{ position: 'absolute', left: STARTS[c] - M, top: STARTS[r] - M, width: size, height: size }}
    />
  );
}

export default function App() {
  const cells: React.ReactNode[] = [];
  for (let r = 0; r < 5; r++) {
    for (let c = 0; c < 5; c++) {
      cells.push(<Panel key={`${r}-${c}`} r={r} c={c} />);
    }
  }
  return (
    <div style={{ position: 'absolute', left: 0, top: 0, width: 2868, height: 2868, background: '#fff' }}>
      {cells}
    </div>
  );
}
